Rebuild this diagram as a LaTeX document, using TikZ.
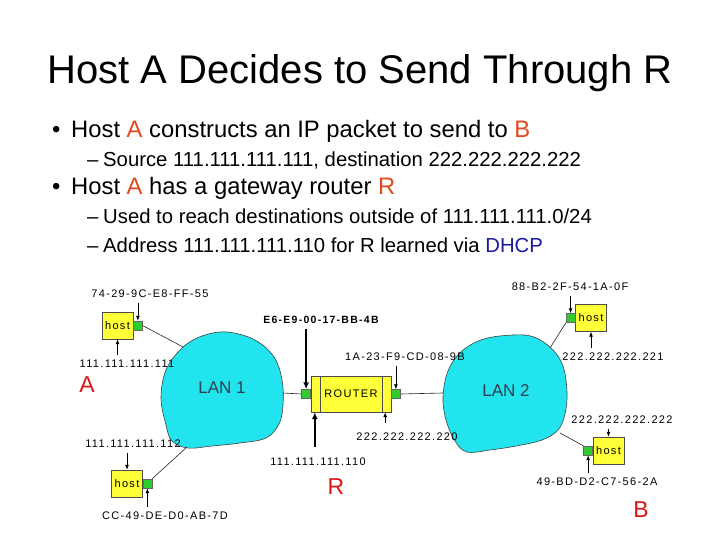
\documentclass[tikz,border=0pt]{standalone}
\usepackage{fontspec}
\setmainfont{Liberation Sans}
\newfontfamily\netfont[LetterSpace=12]{Liberation Sans}
\usepackage{tikz}
\usetikzlibrary{calc,arrows.meta,positioning}
\definecolor{nw-cloud}{HTML}{22E4EE}
\definecolor{nw-host}{HTML}{FFFF3A}
\definecolor{nw-port}{HTML}{2ECC2E}
\definecolor{nw-lan}{HTML}{2F3F4F}
\definecolor{nw-tag}{HTML}{DD1414}
\definecolor{sl-accent}{HTML}{E0481E}
\definecolor{sl-blue}{HTML}{1A1A9A}

\begin{document}
\begin{tikzpicture}[x=1pt,y=-1pt,
    hostbox/.style={draw=black!70, fill=nw-host, minimum width=31, minimum height=27, inner sep=0, font=\netfont\fontsize{11}{12}\selectfont},
    port/.style={draw=black!60, fill=nw-port, minimum size=9, inner sep=0},
    addr/.style={font=\netfont\fontsize{11}{12}\selectfont, inner sep=2, outer sep=3},
    lanlabel/.style={font=\fontsize{17}{20}\selectfont, text=nw-lan},
    tag/.style={font=\fontsize{23}{25}\selectfont, text=nw-tag},
    cloud/.style={draw=black!75, line width=0.6, fill=nw-cloud},
    link/.style={draw=black!85, line width=0.6},
    pin/.style={-{Latex[length=5,width=4]}, line width=0.8},
    pinbold/.style={-{Latex[length=7,width=6]}, line width=2.2},
    bigitem/.style={anchor=base west, inner sep=0, font=\fontsize{23.8}{26}\selectfont},
    smallitem/.style={anchor=base west, inner sep=0, font=\fontsize{20.3}{22}\selectfont}]
    \useasboundingbox (0,0) rectangle (720,540);

    % slide text
    \node[anchor=base, inner sep=0, font=\fontsize{40}{44}\selectfont] (title) at (360,84) {Host A Decides to Send Through R};
    \node[bigitem] (dot1) at (52,138) {•};
    \node[bigitem] (item1) at (71,138) {Host \textcolor{sl-accent}{A} constructs an IP packet to send to \textcolor{sl-accent}{B}};
    \node[smallitem] (dash1) at (87,167) {–};
    \node[smallitem] (sub1) at (103,167) {Source 111.111.111.111, destination 222.222.222.222};
    \node[bigitem] (dot2) at (52,195) {•};
    \node[bigitem] (item2) at (71,195) {Host \textcolor{sl-accent}{A} has a gateway router \textcolor{sl-accent}{R}};
    \node[smallitem] (dash2) at (87,223) {–};
    \node[smallitem] (sub2) at (103,223) {Used to reach destinations outside of 111.111.111.0/24};
    \node[smallitem] (dash3) at (87,252) {–};
    \node[smallitem] (sub3) at (103,252) {Address 111.111.111.110 for R learned via \textcolor{sl-blue}{DHCP}};

    % the two LANs
    \draw[cloud] plot[smooth cycle, tension=0.6] coordinates {(227,332) (255,340) (274,357) (282,380) (283,405) (279,424) (266,438) (240,443) (212,446) (188,448) (172,441) (166,425) (161,398) (166,370) (182,348) (202,336)};
    \draw[cloud] plot[smooth cycle, tension=0.6] coordinates {(513,335) (534,337) (552,349) (563,366) (567,392) (565,414) (558,430) (542,440) (516,446) (490,450) (467,452) (455,441) (446,420) (443,397) (448,371) (462,351) (484,339)};
    \node[lanlabel] (lan1) at (222,388) {LAN 1};
    \node[lanlabel] (lan2) at (506,391) {LAN 2};
    \coordinate (lan1nw) at (183,347);
    \coordinate (lan1sw) at (187,447);
    \coordinate (lan1e) at (283,393);
    \coordinate (lan2w) at (443,393);
    \coordinate (lan2ne) at (550,348);
    \coordinate (lan2se) at (560,433);

    % router
    \node[hostbox, minimum width=80, minimum height=36] (router) at (351,394) {ROUTER};
    \draw[black!70] ([xshift=9]router.north west) -- ([xshift=9]router.south west);
    \draw[black!70] ([xshift=-9]router.north east) -- ([xshift=-9]router.south east);
    \node[port, left=0pt of router] (rport1) {};
    \node[port, right=0pt of router] (rport2) {};
    \coordinate (rfoot1) at ([xshift=4]router.south west);
    \coordinate (rfoot2) at ([xshift=-6]router.south east);

    % hosts
    \node[hostbox] (hostA) at (117.5,325.5) {host};
    \node[port, right=0pt of hostA] (portA) {};
    \node[hostbox] (hostC) at (127,483.5) {host};
    \node[port, right=0pt of hostC] (portC) {};
    \node[hostbox] (hostD) at (591,318) {host};
    \node[port, left=0pt of hostD] (portD) {};
    \node[hostbox] (hostB) at (608.5,450.5) {host};
    \node[port, left=0pt of hostB] (portB) {};

    % links
    \draw[link] (portA.east) -- (lan1nw);
    \draw[link] (portC.north east) -- (lan1sw);
    \draw[link] (rport1.west) -- (lan1e);
    \draw[link] (rport2.east) -- (lan2w);
    \draw[link] (portD.south west) -- (lan2ne);
    \draw[link] (portB.north west) -- (lan2se);

    % addresses
    \node[addr] (macA) at (150,294) {74-29-9C-E8-FF-55};
    \node[addr] (ipA) at (127,364) {111.111.111.111};
    \node[addr] (ipC) at (133,444) {111.111.111.112};
    \node[addr] (macC) at (165,516) {CC-49-DE-D0-AB-7D};
    \node[addr, font=\netfont\bfseries\fontsize{10.5}{12}\selectfont] (macR1) at (321,320) {E6-E9-00-17-BB-4B};
    \node[addr] (macR2) at (405,357) {1A-23-F9-CD-08-9B};
    \node[addr, outer sep=9] (ipR1) at (318,462) {111.111.111.110};
    \node[addr, outer sep=8] (ipR2) at (407,437) {222.222.222.220};
    \node[addr] (macD) at (570,287) {88-B2-2F-54-1A-0F};
    \node[addr] (ipD) at (613,357) {222.222.222.221};
    \node[addr] (ipB) at (622,420) {222.222.222.222};
    \node[addr] (macB) at (597,482) {49-BD-D2-C7-56-2A};

    \draw[pin] (macA.south -| portA.north) -- (portA.north);
    \draw[pin] (ipA.north -| hostA.south) -- (hostA.south);
    \draw[pin] (ipC.south -| hostC.north) -- (hostC.north);
    \draw[pin] (macC.north -| portC.south) -- (portC.south);
    \draw[pinbold] (macR1.south -| rport1.north) -- (rport1.north);
    \draw[pin] (macR2.south -| rport2.north) -- (rport2.north);
    \draw[pinbold] (ipR1.north -| rfoot1) -- (rfoot1);
    \draw[pin] (ipR2.north -| rfoot2) -- (rfoot2);
    \draw[pin] (macD.south -| portD.north) -- (portD.north);
    \draw[pin] (ipD.north -| hostD.south) -- (hostD.south);
    \draw[pin] (ipB.south -| hostB.north) -- (hostB.north);
    \draw[pin] (macB.north -| portB.south) -- (portB.south);

    % A, R and B
    \node[tag] (tagA) at (87,385) {A};
    \node[tag] (tagR) at (336,487) {R};
    \node[tag] (tagB) at (641,510) {B};
\end{tikzpicture}
\end{document}
